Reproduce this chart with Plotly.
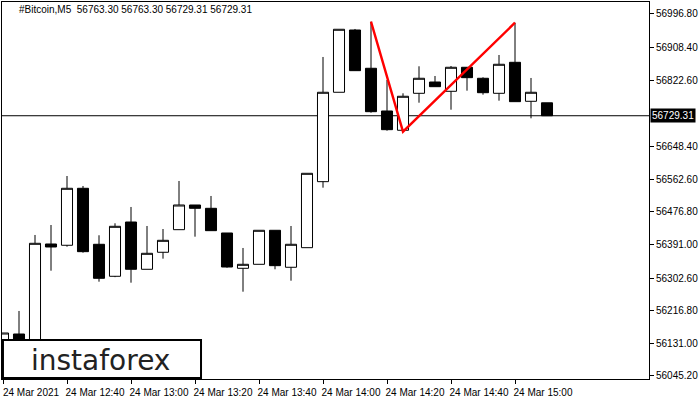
import plotly.graph_objects as go

# ---- data (BTC, M5, 24 Mar 2021) ----
times = ["12:20", "12:25", "12:30", "12:35", "12:40", "12:45", "12:50", "12:55",
         "13:00", "13:05", "13:10", "13:15", "13:20", "13:25", "13:30", "13:35",
         "13:40", "13:45", "13:50", "13:55", "14:00", "14:05", "14:10", "14:15",
         "14:20", "14:25", "14:30", "14:35", "14:40", "14:45", "14:50", "14:55",
         "15:00", "15:05", "15:10"]
opens = [56108.3, 56155.6, 56061.0, 56392.2, 56388.8, 56538.6, 56391.4, 56307.3,
         56450.0, 56325.7, 56370.4, 56429.8, 56494.7, 56486.0, 56421.1, 56328.3,
         56338.8, 56428.2, 56331.0, 56382.5, 56556.0, 56791.0, 56954.7, 56854.1,
         56741.8, 56691.1, 56788.3, 56818.0, 56793.6, 56856.7, 56827.8, 56788.3,
         56869.8, 56767.3, 56763.30]
highs = [56158.2, 56216.1, 56415.9, 56442.1, 56570.9, 56544.7, 56415.1, 56446.6,
         56489.5, 56439.5, 56431.6, 56557.8, 56494.7, 56518.4, 56421.1, 56381.7,
         56428.2, 56428.2, 56439.5, 56578.0, 56883.8, 56956.6, 56957.4, 56976.6,
         56823.3, 56788.3, 56859.3, 56833.8, 56860.1, 56856.7, 56830.4, 56889.0,
         56973.9, 56828.6, 56763.30]
lows = [56087.3, 56045.0, 56050.0, 56322.0, 56385.1, 56369.3, 56293.1, 56305.0,
        56290.5, 56325.7, 56353.6, 56429.8, 56411.4, 56427.2, 56329.9, 56266.8,
        56338.8, 56325.7, 56295.7, 56382.5, 56540.2, 56791.0, 56847.8, 56737.3,
        56690.0, 56687.4, 56763.6, 56805.7, 56745.2, 56795.2, 56784.7, 56768.9,
        56766.3, 56722.6, 56729.31]
closes = [56158.2, 56055.7, 56394.0, 56384.3, 56538.6, 56372.0, 56302.0, 56438.7,
          56325.7, 56367.7, 56401.9, 56494.7, 56486.0, 56427.2, 56331.7, 56338.8,
          56428.2, 56335.2, 56391.4, 56578.0, 56791.0, 56956.6, 56847.8, 56740.0,
          56692.7, 56780.5, 56827.8, 56805.7, 56856.7, 56829.4, 56789.9, 56864.6,
          56766.3, 56791.0, 56729.31]

pattern_times = ["14:15", "14:25", "15:00"]
pattern_prices = [56976.6, 56687.4, 56973.9]

current_price = 56729.31
title_text = "#Bitcoin,M5&nbsp;&nbsp;56763.30 56763.30 56729.31 56729.31"

y_ticks = [56996.80, 56908.40, 56822.60, 56648.40, 56562.60, 56476.80,
           56391.00, 56302.60, 56216.80, 56131.00, 56045.20]
x_tick_times = ["12:20", "12:40", "13:00", "13:20", "13:40", "14:00", "14:20", "14:40", "15:00"]
x_tick_labels = ["24 Mar 2021", "24 Mar 12:40", "24 Mar 13:00", "24 Mar 13:20",
                 "24 Mar 13:40", "24 Mar 14:00", "24 Mar 14:20", "24 Mar 14:40", "24 Mar 15:00"]

DAY = "2021-03-24 "
xs = [DAY + t for t in times]

fig = go.Figure()
fig.add_trace(go.Candlestick(
    x=xs, open=opens, high=highs, low=lows, close=closes,
    increasing=dict(fillcolor="white", line=dict(color="black", width=1)),
    decreasing=dict(fillcolor="black", line=dict(color="black", width=1)),
    whiskerwidth=0, showlegend=False, hoverinfo="skip",
))
fig.add_trace(go.Scatter(
    x=[DAY + t for t in pattern_times], y=pattern_prices, mode="lines",
    line=dict(color="#ff0000", width=2.4), showlegend=False, hoverinfo="skip",
))

font = dict(family="Liberation Sans", size=10, color="black")

fig.update_layout(
    width=700, height=400,
    margin=dict(l=2, r=51, t=2, b=21, autoexpand=False),
    paper_bgcolor="white", plot_bgcolor="white",
    boxgap=0.31, boxgroupgap=0,
    font=font,
    xaxis=dict(
        type="date", automargin=False,
        range=[DAY + "12:19:41.25", DAY + "15:41:52.5"],
        rangeslider=dict(visible=False),
        showgrid=False, zeroline=False,
        showline=True, linecolor="black", linewidth=1, mirror=True,
        ticks="outside", ticklen=4, tickcolor="black", tickwidth=1,
        tickvals=[DAY + t for t in x_tick_times], ticktext=x_tick_labels,
        ticklabelshift=28, tickfont=font,
    ),
    yaxis=dict(
        side="right", automargin=False,
        range=[56037.3, 57028.3],
        showgrid=False, zeroline=False,
        showline=True, linecolor="black", linewidth=1, mirror=True,
        ticks="outside", ticklen=4, tickcolor="black", tickwidth=1,
        tickvals=y_ticks, ticktext=["%.2f" % v for v in y_ticks],
        tickfont=font,
    ),
    shapes=[
        dict(type="line", xref="paper", x0=0, x1=1, yref="y", y0=current_price, y1=current_price,
             line=dict(color="black", width=1), layer="below"),
        dict(type="rect", xref="paper", yref="paper",
             x0=0.0015, x1=0.3076, y0=0.0027, y1=0.1034,
             line=dict(color="black", width=2), fillcolor="white", layer="above"),
    ],
    annotations=[
        dict(text=title_text, xref="paper", yref="paper", x=0.0232, y=0.979,
             xanchor="left", yanchor="middle", showarrow=False,
             font=dict(family="Liberation Sans", size=10, color="black")),
        dict(text="%.2f" % current_price, xref="paper", yref="y", x=1, y=current_price,
             xanchor="left", yanchor="middle", xshift=1, showarrow=False,
             bgcolor="black", borderpad=1,
             font=dict(family="Liberation Sans", size=10, color="white")),
        dict(text="instaforex", xref="paper", yref="paper", x=0.152, y=0.05,
             xanchor="center", yanchor="middle", showarrow=False,
             font=dict(family="DejaVu Sans", size=28, color="#222222")),
    ],
)

fig.write_html("out.html", config={"displayModeBar": False},
               post_script="document.body.style.margin='0px';")
